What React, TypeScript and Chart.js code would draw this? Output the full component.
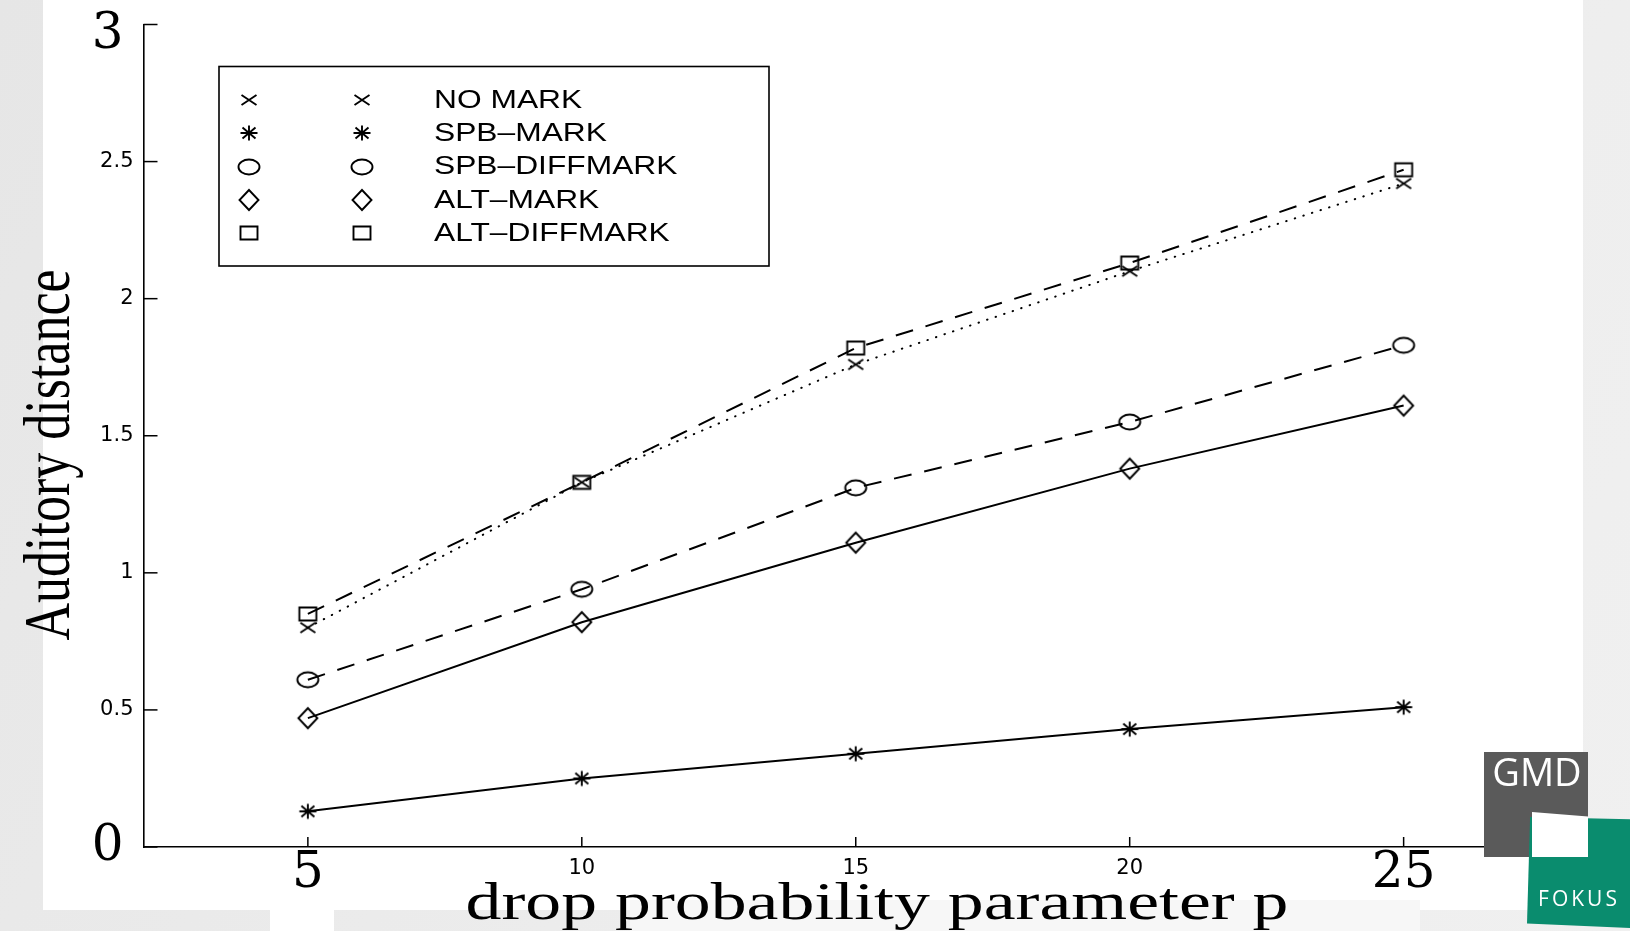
import React, { useEffect, useRef } from 'react';
import { Chart, registerables } from 'chart.js';

Chart.register(...registerables);

// ---- data ----
const pValues = [5, 10, 15, 20, 25];
const noMark = [0.8, 1.33, 1.76, 2.1, 2.42];
const spbMark = [0.13, 0.25, 0.34, 0.43, 0.51];
const spbDiffMark = [0.61, 0.94, 1.31, 1.55, 1.83];
const altMark = [0.47, 0.82, 1.11, 1.38, 1.61];
const altDiffMark = [0.85, 1.33, 1.82, 2.13, 2.47];
const seriesNames = ['NO MARK', 'SPB\u2013MARK', 'SPB\u2013DIFFMARK', 'ALT\u2013MARK', 'ALT\u2013DIFFMARK'];
const xTickValues = [5, 10, 15, 20, 25];
const xTickLabels = ['5', '10', '15', '20', '25'];
const yTickValues = [0, 0.5, 1, 1.5, 2, 2.5, 3];
const yTickLabels = ['0', '0.5', '1', '1.5', '2', '2.5', '3'];
const bigXTicks = [5, 25];
const bigYTicks = [0, 3];
const xTitle = 'drop probability parameter p';
const yTitle = 'Auditory distance';

// ---- styles ----
const markerKinds = ['x', 'star', 'circle', 'diamond', 'square'];
const dashes: number[][] = [[0.5, 8.5], [], [18, 13], [], [18, 13]];
const seriesValues = [noMark, spbMark, spbDiffMark, altMark, altDiffMark];

const bigFamily = '"DejaVu Serif", "Liberation Serif", serif';
const bigFont = { family: bigFamily, size: 50, lineHeight: 0.75 };
const topFont = { family: bigFamily, size: 50, lineHeight: 0.44 };
const smallFont = { family: '"DejaVu Sans", "Liberation Sans", sans-serif', size: 21, lineHeight: 1.2 };

function makeMarker(kind: string): HTMLCanvasElement {
  const c = document.createElement('canvas');
  c.width = 26;
  c.height = 26;
  const g = c.getContext('2d')!;
  g.translate(13, 13);
  g.strokeStyle = '#000';
  g.lineWidth = 1.9;
  g.beginPath();
  switch (kind) {
    case 'x':
      g.moveTo(-7.5, -5); g.lineTo(7.5, 5);
      g.moveTo(-7.5, 5); g.lineTo(7.5, -5);
      break;
    case 'star':
      g.moveTo(0, -7.5); g.lineTo(0, 7.5);
      g.moveTo(-8.5, 0); g.lineTo(8.5, 0);
      g.moveTo(-6.5, -5.5); g.lineTo(6.5, 5.5);
      g.moveTo(-6.5, 5.5); g.lineTo(6.5, -5.5);
      break;
    case 'circle':
      g.ellipse(0, 0, 10.5, 7.5, 0, 0, Math.PI * 2);
      break;
    case 'diamond':
      g.moveTo(0, -10); g.lineTo(9.5, 0); g.lineTo(0, 10); g.lineTo(-9.5, 0); g.closePath();
      break;
    case 'square':
      g.rect(-8.5, -6.5, 17, 13);
      break;
  }
  g.stroke();
  return c;
}

export default function App() {
  const ref = useRef<HTMLCanvasElement | null>(null);

  useEffect(() => {
    const canvas = ref.current;
    if (!canvas) return;
    const markers = markerKinds.map(makeMarker);

    const decor = {
      id: 'decor',
      afterDraw(chart: any) {
        const ctx = chart.ctx as CanvasRenderingContext2D;
        const xs = chart.scales.x;
        const ys = chart.scales.y;
        const area = chart.chartArea;
        ctx.save();
        ctx.strokeStyle = '#000';
        ctx.lineWidth = 1.5;
        // inward tick marks
        for (const t of xs.ticks) {
          const px = xs.getPixelForValue(t.value);
          ctx.beginPath();
          ctx.moveTo(px, area.bottom);
          ctx.lineTo(px, area.bottom - 10);
          ctx.stroke();
        }
        for (const t of ys.ticks) {
          const py = ys.getPixelForValue(t.value);
          ctx.beginPath();
          ctx.moveTo(area.left, py);
          ctx.lineTo(area.left + 14, py);
          ctx.stroke();
        }
        // axis titles
        ctx.fillStyle = '#000';
        ctx.font = '52px "Liberation Serif", "Times New Roman", serif';
        ctx.textAlign = 'center';
        ctx.textBaseline = 'alphabetic';
        ctx.save();
        ctx.translate(877, 919);
        ctx.scale(1.38, 1);
        ctx.fillText(xTitle, 0, 0);
        ctx.restore();
        ctx.save();
        ctx.translate(69, 455);
        ctx.scale(1.25, 1);
        ctx.rotate(-Math.PI / 2);
        ctx.fillText(yTitle, 0, 0);
        ctx.restore();
        // legend
        ctx.lineWidth = 1.6;
        ctx.strokeRect(219, 66.5, 550, 199.5);
        ctx.font = '25px "Liberation Sans", Arial, sans-serif';
        ctx.textAlign = 'left';
        ctx.textBaseline = 'middle';
        seriesNames.forEach((name, i) => {
          const ry = 100 + i * 33.25;
          const m = markers[i];
          ctx.drawImage(m, Math.round(248.5 - m.width / 2), Math.round(ry - m.height / 2));
          ctx.drawImage(m, Math.round(362 - m.width / 2), Math.round(ry - m.height / 2));
          ctx.save();
          ctx.translate(434, ry + 1);
          ctx.scale(1.27, 1);
          ctx.fillText(name, 0, 0);
          ctx.restore();
        });
        ctx.restore();
      },
    };

    const chart = new Chart(canvas, {
      type: 'line',
      data: {
        datasets: seriesValues.map((vals, i) => ({
          label: seriesNames[i],
          data: pValues.map((p, j) => ({ x: p, y: vals[j] })),
          borderColor: '#000',
          backgroundColor: 'transparent',
          borderWidth: 2,
          borderDash: dashes[i],
          borderCapStyle: i === 0 ? 'round' : 'butt',
          pointStyle: markers[i] as any,
          pointRadius: 6,
          pointHoverRadius: 6,
          fill: false,
          tension: 0,
        })),
      },
      options: {
        responsive: false,
        animation: false,
        devicePixelRatio: 1,
        events: [],
        layout: { padding: { top: 24.5, right: 62, bottom: 0, left: 0 } },
        plugins: {
          legend: { display: false },
          tooltip: { enabled: false },
          title: { display: false },
        },
        scales: {
          x: {
            type: 'linear',
            min: 2,
            max: 28,
            afterBuildTicks: (s: any) => {
              s.ticks = xTickValues.map((v) => ({ value: v }));
            },
            afterFit: (s: any) => {
              s.height = 84;
              s.paddingLeft = 0;
              s.paddingRight = 0;
            },
            grid: { display: true, drawOnChartArea: false, drawTicks: false },
            border: { display: true, color: '#000', width: 1.6 },
            ticks: {
              autoSkip: false,
              maxRotation: 0,
              minRotation: 0,
              padding: 8.5,
              color: '#000',
              callback: (_v: any, i: number) => xTickLabels[i],
              font: (c: any) => (bigXTicks.includes(c.tick?.value) ? bigFont : smallFont),
            },
          },
          y: {
            type: 'linear',
            min: 0,
            max: 3,
            afterBuildTicks: (s: any) => {
              s.ticks = yTickValues.map((v) => ({ value: v }));
            },
            afterFit: (s: any) => {
              s.width = 143.5;
              s.paddingTop = 0;
              s.paddingBottom = 0;
            },
            grid: { display: true, drawOnChartArea: false, drawTicks: false },
            border: { display: true, color: '#000', width: 1.6 },
            ticks: {
              autoSkip: false,
              padding: 10,
              color: '#000',
              callback: (v: any, i: number) => {
                const lbl = yTickLabels[i];
                if (v === 3) return ['', lbl + '\u2009'];
                if (bigYTicks.includes(v)) return lbl + '\u2009';
                return lbl;
              },
              font: (c: any) => {
                const v = c.tick?.value;
                if (v === 3) return topFont;
                return bigYTicks.includes(v) ? bigFont : smallFont;
              },
            },
          },
        },
      } as any,
      plugins: [decor],
    });
    return () => chart.destroy();
  }, []);

  return (
    <div
      style={{
        position: 'fixed',
        left: 0,
        top: 0,
        width: 1630,
        height: 931,
        overflow: 'hidden',
        background: 'linear-gradient(120deg, #e6e6e6 0%, #ececec 50%, #f0f0f0 100%)',
      }}
    >
      <div style={{ position: 'absolute', left: 43, top: 0, width: 1540, height: 910, background: '#ffffff' }} />
      <div style={{ position: 'absolute', left: 270, top: 900, width: 64, height: 31, background: '#ffffff' }} />
      <div style={{ position: 'absolute', left: 630, top: 900, width: 790, height: 31, background: '#f7f7f7' }} />
      <canvas
        ref={ref}
        width={1630}
        height={931}
        style={{ position: 'absolute', left: 0, top: 0, width: 1630, height: 931 }}
      />
      {/* GMD FOKUS logo */}
      <div style={{ position: 'absolute', left: 1484, top: 752, width: 104, height: 105, background: '#5a5a5a' }} />
      <div
        style={{
          position: 'absolute',
          left: 1527,
          top: 816,
          width: 103,
          height: 112,
          background: '#0a8c6e',
          clipPath: 'polygon(3% 1%, 100% 3%, 100% 100%, 0% 96%)',
        }}
      />
      <div
        style={{
          position: 'absolute',
          left: 1532,
          top: 812,
          width: 56,
          height: 45,
          background: '#ffffff',
          clipPath: 'polygon(0% 0%, 100% 10%, 100% 100%, 0% 100%)',
        }}
      />
      <div
        style={{
          position: 'absolute',
          left: 1490,
          top: 750,
          width: 94,
          textAlign: 'center',
          color: '#ffffff',
          font: '38px "Open Sans", "DejaVu Sans", sans-serif',
          lineHeight: '42px',
        }}
      >
        GMD
      </div>
      <div
        style={{
          position: 'absolute',
          left: 1531,
          top: 885,
          width: 96,
          textAlign: 'center',
          color: '#ffffff',
          font: '21px "Open Sans", "DejaVu Sans", sans-serif',
          letterSpacing: 3,
          lineHeight: '26px',
        }}
      >
        FOKUS
      </div>
    </div>
  );
}
